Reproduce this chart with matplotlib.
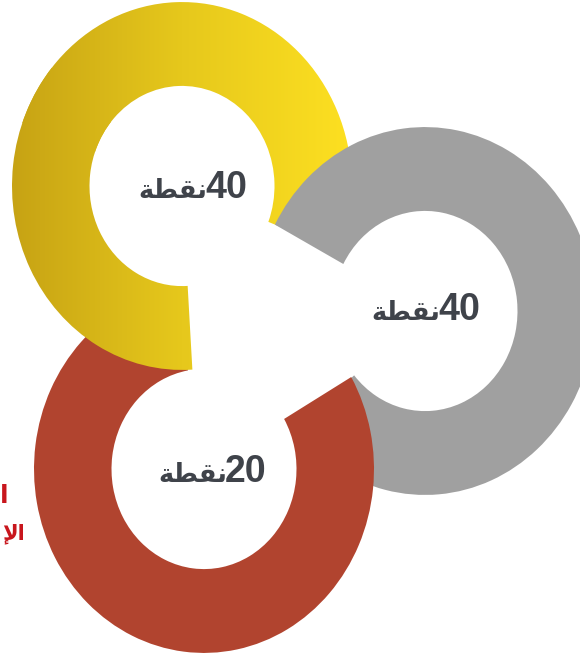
import matplotlib
matplotlib.use("Agg")
import numpy as np
import matplotlib.pyplot as plt
from matplotlib.patches import Wedge
from matplotlib.colors import LinearSegmentedColormap

# data
ring_names = ["yellow", "gray", "red"]
points = [40, 40, 20]
unit_word = "ﺔﻄﻘﻧ"  # "نقطة" in shaped form, left-to-right visual order
side_lines = ["ﺍ", "ﻹﺍ"]  # text at the left edge

# the picture is stretched vertically, work in "round" units
SY = 1.082
W, H = 580, 657


def px(x, y):
    return x, (H - y) / SY


centers = {"yellow": px(182, 186), "gray": px(425, 311), "red": px(204, 469)}
# visible arc of every ring, degrees counter-clockwise
arcs = {"yellow": (-21, 273.5), "gray": (220, 512), "red": (100, 390)}
# split point between number and word, on the baseline
label_pos = {"yellow": px(206, 198), "gray": px(439, 320), "red": px(226, 482)}
R_OUT = 170
R_W = 77.5

fig = plt.figure(figsize=(W / 100, H / 100), dpi=100)
ax = fig.add_axes([0, 0, 1, 1])
ax.set_xlim(0, W)
ax.set_ylim(0, H / SY)
ax.axis("off")

yellow_cmap = LinearSegmentedColormap.from_list("yel", ["#c7a314", "#e6c81c", "#fde021"])


def yellow_piece(t1, t2, z):
    cx, cy = centers["yellow"]
    w = Wedge((cx, cy), R_OUT, t1, t2, width=R_W, facecolor="none", edgecolor="none")
    ax.add_patch(w)
    grad = np.linspace(0, 1, 256).reshape(1, -1)
    im = ax.imshow(grad, cmap=yellow_cmap, aspect="auto", zorder=z,
                   extent=[cx - R_OUT, cx + R_OUT, cy - R_OUT, cy + R_OUT])
    im.set_clip_path(w)


# rings overlap in a cycle, so the yellow one is split in two (pieces overlap a bit)
t1, t2 = arcs["yellow"]
yellow_piece(t1, 160, 1)
ax.add_patch(Wedge(centers["gray"], R_OUT, arcs["gray"][0], arcs["gray"][1],
                   width=R_W, facecolor="#a0a0a0", edgecolor="none", zorder=2))
ax.add_patch(Wedge(centers["red"], R_OUT, arcs["red"][0], arcs["red"][1],
                   width=R_W, facecolor="#b1442f", edgecolor="none", zorder=3))
yellow_piece(140, t2, 4)

for name, v in zip(ring_names, points):
    x, y = label_pos[name]
    ax.text(x - 1, y, str(v), ha="left", va="baseline", fontsize=27,
            fontweight="bold", color="#3f434a", zorder=5, family="Liberation Sans")
    ax.text(x + 1, y, unit_word, ha="right", va="baseline", fontsize=18.5,
            fontweight="bold", color="#3f434a", zorder=5, family="DejaVu Sans")

# red text at the left border
ax.text(8, (H - 496) / SY, side_lines[0], ha="right", va="center", fontsize=18,
        fontweight="bold", color="#c8161d", family="DejaVu Sans")
ax.text(2, (H - 534) / SY, side_lines[1], ha="left", va="center", fontsize=15,
        fontweight="bold", color="#c8161d", family="DejaVu Sans")

fig.savefig("out.png", dpi=100)
